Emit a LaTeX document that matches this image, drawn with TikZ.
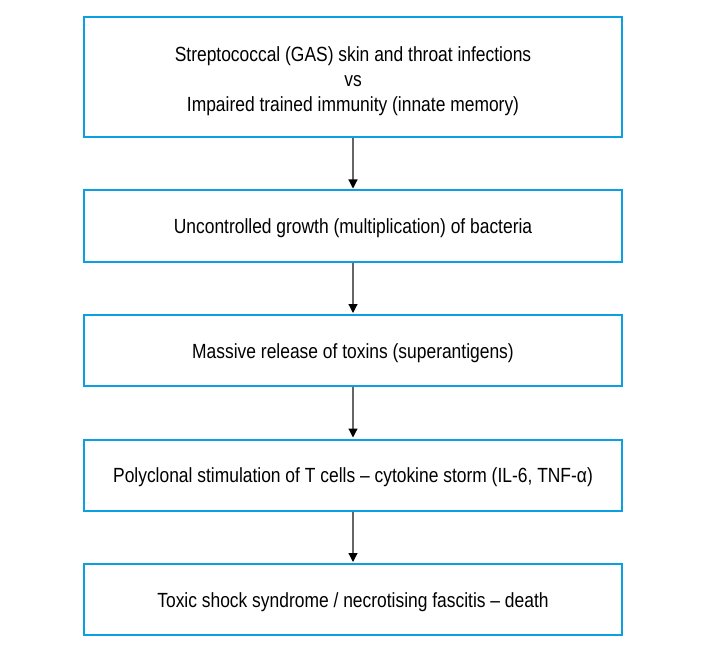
\documentclass[tikz,border=0pt]{standalone}
\usepackage{fontspec}
\setmainfont{Liberation Sans}[FakeStretch=0.85]
\usetikzlibrary{arrows.meta,positioning}
\definecolor{boxblue}{RGB}{12,160,226}

\begin{document}
\begin{tikzpicture}[x=1pt,y=1pt,>={Triangle[length=9pt,width=9pt,black]},
  stepbox/.style={draw=boxblue,line width=2pt,minimum width=538pt,minimum height=71pt,
    font=\fontsize{20.5pt}{25pt}\selectfont,text height=15pt,text depth=0pt},
  node distance=51.5pt]
\useasboundingbox (0,0) rectangle (703,-660);
\node[stepbox,minimum height=120pt,align=center,text height=,text depth=] (gas) at (353,-77)
  {\rule{0pt}{24pt}Streptococcal (GAS) skin and throat infections\\vs\\Impaired trained immunity (innate memory)};
\node[stepbox,below=of gas] (growth) {Uncontrolled growth (multiplication) of bacteria};
\node[stepbox,below=of growth] (toxins) {Massive release of toxins (superantigens)};
\node[stepbox,below=of toxins] (storm) {Polyclonal stimulation of T cells -- cytokine storm (IL-6, TNF-α)};
\node[stepbox,below=of storm] (death) {Toxic shock syndrome / necrotising fascitis -- death};
\foreach \a/\b in {gas/growth,growth/toxins,toxins/storm,storm/death}
  \draw[->,gray!80!black,line width=1.2pt] (\a.south) -- ([yshift=1pt]\b.north);
\end{tikzpicture}
\end{document}
